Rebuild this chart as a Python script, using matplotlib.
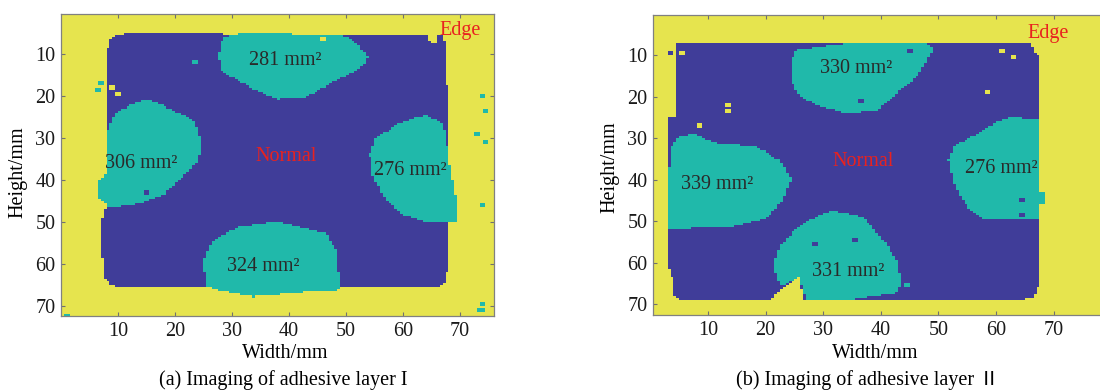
import numpy as np
import matplotlib.pyplot as plt
from matplotlib.path import Path
from matplotlib.colors import ListedColormap

plt.rcParams['font.family'] = ['Liberation Serif', 'Noto Sans CJK SC', 'DejaVu Sans']

# classes: 0 normal, 1 defect, 2 edge
colours = ['#403d99', '#20b9aa', '#e6e44e']

# ---- panel (a) outlines in mm (x, y)
a_normal = [(8.6, 6.5), (9.5, 5.6), (11.5, 5.1), (20, 5.0), (30, 5.3), (50, 5.4), (60, 5.5),
            (67.1, 5.4), (67.6, 10), (67.8, 20), (67.8, 35), (68.0, 50), (67.9, 60),
            (67.6, 64), (66.5, 65.3), (60, 65.5), (40, 65.5), (20, 65.4), (10, 65.4),
            (8.6, 64.8), (7.6, 63), (7.2, 58), (7.0, 50), (7.8, 47), (8.0, 30), (8.0, 10)]
a_defects = [
    [(28.5, 6), (32, 5), (49, 5.5), (51.5, 7), (53.8, 10.5), (53.5, 12.5), (51, 14.5),
     (48, 16.5), (43, 20.3), (38, 20.8), (34, 18.5), (30, 15.5), (28, 13.5), (27.6, 10)],
    [(15.3, 20.8), (19.7, 23.4), (23.2, 25.7), (24.4, 30), (24.2, 35.3), (21.9, 38.4),
     (18.4, 43.2), (14.0, 45.5), (8.6, 46.7), (6.4, 44.0), (6.4, 40.6), (7.8, 38.4),
     (8.0, 28.9), (9.5, 24.2), (12.2, 22.1)],
    [(63.9, 24.5), (67.1, 26.5), (68.3, 36.9), (69.4, 44.8), (69.4, 49.9), (63.7, 49.9),
     (59.5, 47.9), (56.6, 44.0), (54.5, 38.4), (54.2, 33.7), (55.4, 29.7), (59.5, 26.5)],
    [(37.9, 49.9), (46.5, 52.7), (48.4, 56.7), (49.0, 66.2), (42, 66.8), (33.7, 67.8),
     (25.6, 65.8), (25.0, 59.1), (26.7, 54.3), (31.4, 51.1)],
]
a_extra_edge = [[(64.5, 4), (66, 4), (66, 7.6), (64.8, 7.6)]]
a_specks = [(6.8, 16.5, 1), (6.3, 18.2, 1), (73.8, 19.5, 1), (74.0, 23.0, 1), (72.5, 28.5, 1),
            (74.0, 30.5, 1), (73.6, 45.5, 1), (73.8, 69.3, 1), (73.0, 70.5, 1), (73.6, 70.5, 1),
            (0.5, 72.0, 1), (14.5, 42.8, 0), (22.5, 20.5, 0), (39.0, 21.5, 0), (23.0, 11.5, 1),
            (9.5, 19.0, 2), (8.6, 17.5, 2), (45.5, 6.0, 2), (25.5, 65.8, 2)]
a_labels = ['281 mm²', '306 mm²', '276 mm²', '324 mm²']
a_label_xy = [(39.3, 11.5), (14.1, 36.1), (61.3, 37.8), (35.5, 60.7)]

# ---- panel (b)
b_normal = [(4.4, 6.9), (20, 6.8), (40, 6.8), (52, 7.0), (66.2, 6.8), (66.3, 9), (67.3, 10),
            (67.3, 30), (67.3, 55), (67.3, 66), (66.5, 68.3), (64, 69), (40, 69), (20, 69),
            (5.5, 69), (4.3, 68), (3.9, 66), (3.7, 63), (2.8, 60), (2.8, 40), (2.8, 25),
            (4.4, 24.9), (4.4, 10)]
b_defects = [
    [(25.1, 8.8), (34.6, 7.0), (48.0, 6.8), (49.1, 8.8), (46.2, 15.2), (42.2, 20.0),
     (39.3, 23.3), (34.1, 24.1), (30.0, 22.6), (26.0, 20.0), (24.6, 16.8), (24.4, 12.0)],
    [(7.4, 28.9), (11.5, 31.3), (18.4, 32.1), (22.4, 35.3), (24.4, 39.7), (23.0, 44.9),
     (20.2, 49.3), (14.4, 51.3), (3.1, 52.0), (2.8, 41.7), (3.7, 32.1), (4.6, 30.0)],
    [(62.4, 24.9), (67.3, 25.7), (67.3, 42.9), (68.7, 42.9), (68.7, 45.7), (67.3, 46.1),
     (67.3, 49.7), (57.8, 49.3), (54.9, 46.6), (52.9, 41.8), (51.7, 35.3), (52.6, 32.1),
     (56.7, 28.9), (59.6, 26.5)],
    [(31.8, 47.5), (36.7, 48.9), (40.4, 54.5), (42.7, 59.2), (43.6, 64.9), (43.0, 67.1),
     (34.6, 68.9), (27.1, 68.9), (25.7, 63.7), (22.5, 65.8), (21.3, 60.6), (22.5, 55.8),
     (25.4, 51.8), (28.9, 48.7)],
]
b_extra_edge = [[(20.0, 70.0), (22.5, 66.6), (25.7, 63.4), (26.8, 70.0)]]
b_specks = [(13.0, 21.6, 2), (13.0, 23.2, 2), (8.4, 26.9, 2), (58.4, 18.6, 2), (60.7, 8.6, 2),
            (62.7, 10.0, 2), (5.4, 9.4, 2), (3.1, 9.4, 0), (44.5, 8.5, 0), (35.0, 54.0, 0),
            (28.0, 55.0, 0), (44.0, 65.0, 1), (64.0, 44.5, 0), (64.0, 48.0, 0), (36.0, 20.5, 0)]
b_labels = ['330 mm²', '339 mm²', '276 mm²', '331 mm²']
b_label_xy = [(35.7, 13.2), (11.5, 41.3), (61.0, 37.3), (34.4, 62.2)]

step = 0.5


def paint(grid, xs, ys, poly, value):
    X, Y = np.meshgrid(xs, ys)
    pts = np.c_[X.ravel(), Y.ravel()]
    inside = Path(poly).contains_points(pts).reshape(X.shape)
    grid[inside] = value


def build(normal, defects, extra, specks, xmax, ymax):
    xs = np.arange(step / 2, xmax, step)
    ys = np.arange(step / 2, ymax, step)
    grid = np.full((len(ys), len(xs)), 2)
    paint(grid, xs, ys, normal, 0)
    for p in defects:
        paint(grid, xs, ys, p, 1)
    for p in extra:
        paint(grid, xs, ys, p, 2)
    for x, y, v in specks:
        i, j = int(y / step), int(x / step)
        grid[i:i + 2, j:j + 2] = v
    return grid, (0, len(xs) * step, len(ys) * step, 0)


def panel(ax, grid, extent, xlim, ylim, labels, label_xy, normal_xy, edge_xy):
    ax.imshow(grid, cmap=ListedColormap(colours), vmin=0, vmax=2, extent=extent,
              interpolation='nearest', aspect='auto')
    ax.set_xlim(xlim)
    ax.set_ylim(ylim)
    ax.set_xticks(range(10, 80, 10))
    ax.set_yticks(range(10, 80, 10))
    ax.tick_params(direction='in', top=True, right=True, length=3, width=0.8,
                   color='#707070', labelsize=14.5, labelcolor='#1a1a1a', pad=4)
    for s in ax.spines.values():
        s.set_color('#808080')
        s.set_linewidth(0.9)
    for t, (x, y) in zip(labels, label_xy):
        ax.text(x, y, t, fontsize=14.5, color='#2a2a2a', ha='center', va='center')
    ax.text(normal_xy[0], normal_xy[1], 'Normal', fontsize=14.5, color='#e8221f',
            ha='center', va='center')
    ax.text(edge_xy[0], edge_xy[1], 'Edge', fontsize=14.5, color='#e8221f',
            ha='center', va='center')


W, H = 1100, 390
fig = plt.figure(figsize=(11, 3.9), dpi=100)

ax1 = fig.add_axes([61 / W, (H - 316) / H, 433 / W, 302 / H])
g1, e1 = build(a_normal, a_defects, a_extra_edge, a_specks, 76, 73)
panel(ax1, g1, e1, (0, 76), (72.4, 0.5), a_labels, a_label_xy, (39.6, 34.5), (70.0, 4.5))

ax2 = fig.add_axes([653 / W, (H - 315) / H, 470 / W, 300 / H])
g2, e2 = build(b_normal, b_defects, b_extra_edge, b_specks, 82, 73)
panel(ax2, g2, e2, (0.45, 0.45 + 470 / 5.76), (72.65, 0.36), b_labels, b_label_xy,
      (37.0, 35.7), (69.1, 4.8))

fig.text(285 / W, 1 - 353 / H, 'Width/mm', fontsize=14.5, ha='center', va='center')
fig.text(283 / W, 1 - 380 / H, '(a) Imaging of adhesive layer I', fontsize=14.5,
         ha='center', va='center')
fig.text(18 / W, 1 - 172 / H, 'Height/mm', fontsize=14.5, ha='center', va='center',
         rotation=90)
fig.text(875 / W, 1 - 353 / H, 'Width/mm', fontsize=14.5, ha='center', va='center')
fig.text(868 / W, 1 - 380 / H, '(b) Imaging of adhesive layer \u2161', fontsize=14.5,
         ha='center', va='center')
fig.text(610 / W, 1 - 167 / H, 'Height/mm', fontsize=14.5, ha='center', va='center',
         rotation=90)

fig.savefig('out.png', dpi=100)
